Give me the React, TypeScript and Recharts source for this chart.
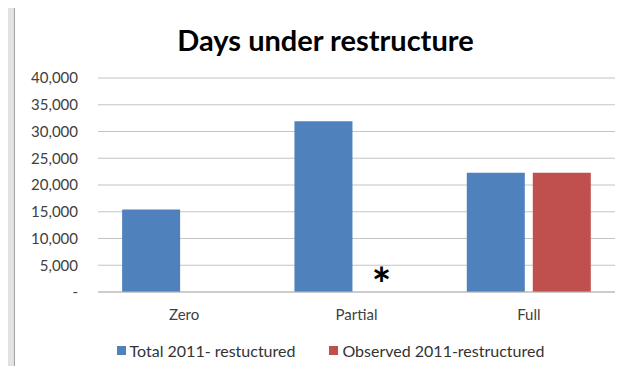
import { BarChart, Bar, XAxis, YAxis, CartesianGrid, Rectangle } from "recharts";

const categories = ["Zero", "Partial", "Full"];
const totalRestructured = [15400, 31900, 22300];
const observedRestructured = [0, 0, 22300];
const notes = ["", "*", ""];
const yTicks = [0, 5000, 10000, 15000, 20000, 25000, 30000, 35000, 40000];

const seriesNames = ["Total 2011- restuctured", "Observed 2011-restructured"];
const seriesColors = ["#4f81bd", "#c0504d"];

const data = categories.map((name, i) => ({
    name,
    total: totalRestructured[i],
    observed: observedRestructured[i],
    note: notes[i],
}));

const fontFamily = "Lato, 'Open Sans', sans-serif";

const formatTick = (v: number) => (v === 0 ? "-" : v.toLocaleString("en-US"));

// bar shape that also draws the footnote mark when the row has one
const ObservedShape = (props: any) => {
    const { x, y, width, height, payload, fill } = props;
    const note = payload?.note;
    return (
        <g>
            {height > 0 && <Rectangle x={x} y={y} width={width} height={height} fill={fill} />}
            {note && (
                <text
                    x={x + width / 2 - 8}
                    y={y + height + 9}
                    textAnchor="middle"
                    fontSize={46}
                    fontWeight="bold"
                    fill="#000"
                    fontFamily={fontFamily}
                >
                    {note}
                </text>
            )}
        </g>
    );
};

export default function App() {
    return (
        <div
            style={{
                position: "relative",
                width: 623,
                height: 374,
                margin: -8,
                overflow: "hidden",
                background: "linear-gradient(90deg, #d8d8d8, #ececec 3%, #e6e6e6)",
            }}
        >
            <div
                style={{
                    position: "absolute",
                    left: 14,
                    top: 6,
                    width: 620,
                    height: 380,
                    background: "#fff",
                    border: "1px solid #a6a6a6",
                    boxShadow: "1px 1px 3px rgba(0,0,0,0.2)",
                }}
            />
            <div
                style={{
                    position: "absolute",
                    left: 14,
                    width: 623,
                    top: 22,
                    textAlign: "center",
                    fontFamily,
                    fontWeight: "bold",
                    fontSize: 29,
                    color: "#000",
                }}
            >
                Days under restructure
            </div>
            <div style={{ position: "absolute", left: 0, top: 0 }}>
                <BarChart
                    width={623}
                    height={374}
                    data={data}
                    margin={{ top: 78, right: 8, bottom: 52, left: 0 }}
                    barCategoryGap="14%"
                    barGap={8}
                >
                    <CartesianGrid vertical={false} stroke="#c4c4c4" strokeWidth={1.2} />
                    <XAxis
                        dataKey="name"
                        height={30}
                        tickLine={false}
                        tickSize={0}
                        tickMargin={17}
                        axisLine={{ stroke: "#b8b8b8" }}
                        tick={{ fill: "#404040", fontSize: 15, fontFamily }}
                    />
                    <YAxis
                        width={98}
                        domain={[0, 40000]}
                        ticks={yTicks}
                        tickFormatter={formatTick}
                        axisLine={false}
                        tickLine={false}
                        tickSize={0}
                        tickMargin={20}
                        tick={{ fill: "#404040", fontSize: 15, fontFamily }}
                    />
                    <Bar dataKey="total" name={seriesNames[0]} fill={seriesColors[0]} isAnimationActive={false} />
                    <Bar
                        dataKey="observed"
                        name={seriesNames[1]}
                        fill={seriesColors[1]}
                        isAnimationActive={false}
                        shape={ObservedShape}
                    />
                </BarChart>
            </div>
            <div
                style={{
                    position: "absolute",
                    top: 341,
                    left: 19,
                    width: 623,
                    display: "flex",
                    justifyContent: "center",
                    gap: 34,
                    fontFamily,
                    fontSize: 16,
                    color: "#333",
                }}
            >
                {seriesNames.map((n, i) => (
                    <div key={n} style={{ display: "flex", alignItems: "center" }}>
                        <span
                            style={{
                                display: "inline-block",
                                width: 9,
                                height: 9,
                                background: seriesColors[i],
                                marginRight: 4,
                            }}
                        />
                        {n}
                    </div>
                ))}
            </div>
        </div>
    );
}
